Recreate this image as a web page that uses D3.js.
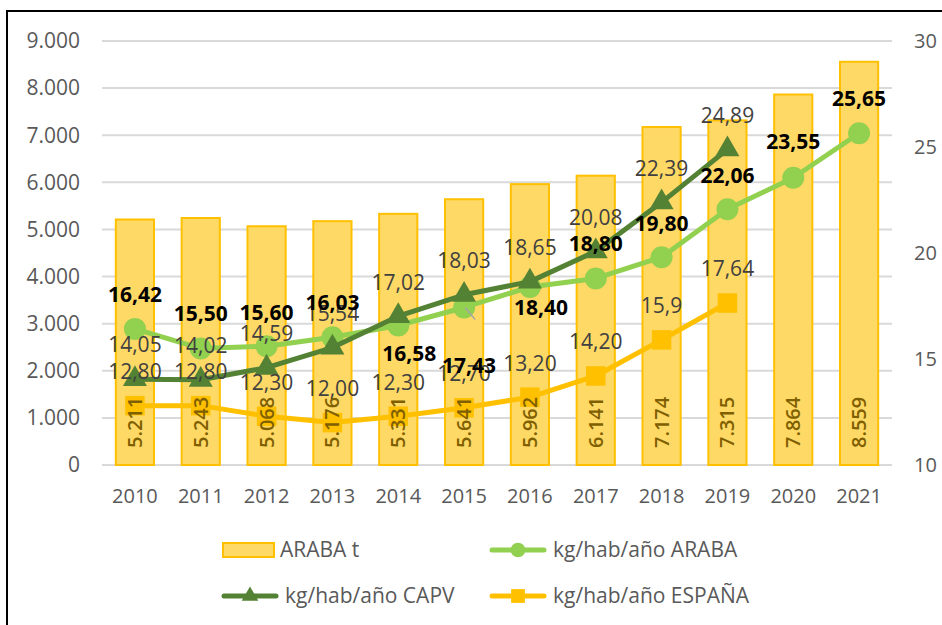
<!DOCTYPE html>
<html>
<head>
<meta charset="utf-8">
<script src="https://cdn.jsdelivr.net/npm/d3@7"></script>
<style>
  body { margin: 0; background: #fff; }
  svg { display: block; font-family: "Open Sans", sans-serif; }
</style>
</head>
<body>
<script>
const years = ["2010","2011","2012","2013","2014","2015","2016","2017","2018","2019","2020","2021"];
const arabaT = [5211, 5243, 5068, 5176, 5331, 5641, 5962, 6141, 7174, 7315, 7864, 8559];
const kgAraba = [16.42, 15.50, 15.60, 16.03, 16.58, 17.43, 18.40, 18.80, 19.80, 22.06, 23.55, 25.65];
const kgCapv = [14.05, 14.02, 14.59, 15.54, 17.02, 18.03, 18.65, 20.08, 22.39, 24.89];
const kgEspana = [12.80, 12.80, 12.30, 12.00, 12.30, 12.70, 13.20, 14.20, 15.9, 17.64];
const espanaText = ["12,80","12,80","12,30","12,00","12,30","12,70","13,20","14,20","15,9","17,64"];
const leftTicks = [0, 1000, 2000, 3000, 4000, 5000, 6000, 7000, 8000, 9000];
const rightTicks = [10, 15, 20, 25, 30];

// the ARABA labels were moved by hand in the original for a few years
const arabaLabelShift = [[0,-34],[0,-35],[0,-34],[0,-35],[11,28],[5,58],[11,21],[0,-35],[0,-34],[0,-34],[0,-36],[0,-35]];

const width = 942, height = 625;
const margin = {top: 41, right: 50, bottom: 160, left: 102};

const svg = d3.select("body").append("svg")
    .attr("width", width)
    .attr("height", height);

const x = d3.scaleBand()
    .domain(years)
    .range([margin.left, 892])
    .paddingInner(0.42)
    .paddingOuter(0.21);

const y = d3.scaleLinear()
    .domain([0, 9000])
    .range([465, margin.top]);

const y2 = d3.scaleLinear()
    .domain([10, 30])
    .range([465, margin.top]);

const fmt = d3.formatLocale({decimal: ",", thousands: ".", grouping: [3], currency: ["", ""]});
const fmtT = fmt.format(",d");
const fmt2 = fmt.format(".2f");
const cx = d => x(d) + x.bandwidth() / 2;

// frame
svg.append("rect")
    .attr("x", 7).attr("y", 11)
    .attr("width", 950).attr("height", 630)
    .attr("fill", "none")
    .attr("stroke", "#000")
    .attr("stroke-width", 2);

// gridlines
svg.append("g")
  .selectAll("line")
  .data(leftTicks)
  .join("line")
    .attr("x1", margin.left).attr("x2", 892)
    .attr("y1", d => y(d)).attr("y2", d => y(d))
    .attr("stroke", "#d9d9d9")
    .attr("stroke-width", 2);

// left axis
svg.append("g")
    .attr("fill", "#595959")
    .attr("font-size", 21)
    .attr("text-anchor", "end")
  .selectAll("text")
  .data(leftTicks)
  .join("text")
    .attr("x", 80)
    .attr("y", d => y(d))
    .attr("dy", "0.35em")
    .text(d => fmtT(d));

// right axis
svg.append("g")
    .attr("fill", "#595959")
    .attr("font-size", 20)
  .selectAll("text")
  .data(rightTicks)
  .join("text")
    .attr("x", 914)
    .attr("y", d => y2(d))
    .attr("dy", "0.35em")
    .text(d => d);

// years
svg.append("g")
    .attr("fill", "#595959")
    .attr("font-size", 20)
    .attr("text-anchor", "middle")
  .selectAll("text")
  .data(years)
  .join("text")
    .attr("x", d => cx(d))
    .attr("y", 496)
    .attr("dy", "0.35em")
    .text(d => d);

// bars
svg.append("g")
  .selectAll("rect")
  .data(arabaT)
  .join("rect")
    .attr("x", (d, i) => x(years[i]))
    .attr("y", d => y(d))
    .attr("width", x.bandwidth())
    .attr("height", d => y(0) - y(d))
    .attr("fill", "#ffd966")
    .attr("stroke", "#ffc000")
    .attr("stroke-width", 2);

function drawLine(values, color, symbol, size) {
  const line = d3.line()
      .x((d, i) => cx(years[i]))
      .y(d => y2(d));
  svg.append("path")
      .datum(values)
      .attr("d", line)
      .attr("fill", "none")
      .attr("stroke", color)
      .attr("stroke-width", 5)
      .attr("stroke-linejoin", "round");
  svg.append("g")
    .selectAll("path")
    .data(values)
    .join("path")
      .attr("transform", (d, i) => `translate(${cx(years[i])},${y2(d)})`)
      .attr("d", d3.symbol(symbol, size))
      .attr("fill", color);
}

drawLine(kgAraba, "#92d050", d3.symbolCircle, 380);
drawLine(kgCapv, "#548235", d3.symbolTriangle, 250);
drawLine(kgEspana, "#ffc000", d3.symbolSquare, 380);

// bar values sit on top of the markers
svg.append("g")
    .attr("fill", "#7f6000")
    .attr("font-size", 20)
    .attr("font-weight", 600)
  .selectAll("text")
  .data(arabaT)
  .join("text")
    .attr("transform", (d, i) => `translate(${cx(years[i])},448) rotate(-90)`)
    .attr("dy", "0.35em")
    .text(d => fmtT(d));

// leader line for 2015
svg.append("line")
    .attr("x1", cx("2015") + 1).attr("y1", y2(kgAraba[5]))
    .attr("x2", cx("2015") + 11).attr("y2", y2(kgAraba[5]) + 12)
    .attr("stroke", "#a6a6a6")
    .attr("stroke-width", 1.5);

// data labels
svg.append("g")
    .attr("fill", "#404040")
    .attr("font-size", 21)
    .attr("text-anchor", "middle")
  .selectAll("text")
  .data(kgCapv)
  .join("text")
    .attr("x", (d, i) => cx(years[i]))
    .attr("y", d => y2(d) - 34)
    .attr("dy", "0.35em")
    .text(d => fmt2(d));

svg.append("g")
    .attr("fill", "#404040")
    .attr("font-size", 21)
    .attr("text-anchor", "middle")
  .selectAll("text")
  .data(kgEspana)
  .join("text")
    .attr("x", (d, i) => cx(years[i]))
    .attr("y", d => y2(d) - 34)
    .attr("dy", "0.35em")
    .text((d, i) => espanaText[i]);

svg.append("g")
    .attr("fill", "#000")
    .attr("font-size", 21)
    .attr("font-weight", "bold")
    .attr("text-anchor", "middle")
  .selectAll("text")
  .data(kgAraba)
  .join("text")
    .attr("x", (d, i) => cx(years[i]) + arabaLabelShift[i][0])
    .attr("y", (d, i) => y2(d) + arabaLabelShift[i][1])
    .attr("dy", "0.35em")
    .text(d => fmt2(d));

// legend
const legend = svg.append("g")
    .attr("font-size", 21)
    .attr("fill", "#595959");

legend.append("rect")
    .attr("x", 223).attr("y", 543)
    .attr("width", 51).attr("height", 14)
    .attr("fill", "#ffd966")
    .attr("stroke", "#ffc000")
    .attr("stroke-width", 2);
legend.append("text").attr("x", 280).attr("y", 550).attr("dy", "0.35em").text("ARABA t");

const legendLines = [
  {x: 490, y: 550, color: "#92d050", symbol: d3.symbolCircle, size: 170, label: "kg/hab/año ARABA", tx: 553},
  {x: 222, y: 596, color: "#548235", symbol: d3.symbolTriangle, size: 120, label: "kg/hab/año CAPV", tx: 285},
  {x: 490, y: 596, color: "#ffc000", symbol: d3.symbolSquare, size: 190, label: "kg/hab/año ESPAÑA", tx: 553}
];

for (const l of legendLines) {
  legend.append("line")
      .attr("x1", l.x + 2).attr("x2", l.x + 54)
      .attr("y1", l.y).attr("y2", l.y)
      .attr("stroke", l.color)
      .attr("stroke-width", 5)
      .attr("stroke-linecap", "round");
  legend.append("path")
      .attr("transform", `translate(${l.x + 28},${l.y})`)
      .attr("d", d3.symbol(l.symbol, l.size))
      .attr("fill", l.color);
  legend.append("text").attr("x", l.tx).attr("y", l.y).attr("dy", "0.35em").text(l.label);
}
</script>
</body>
</html>
